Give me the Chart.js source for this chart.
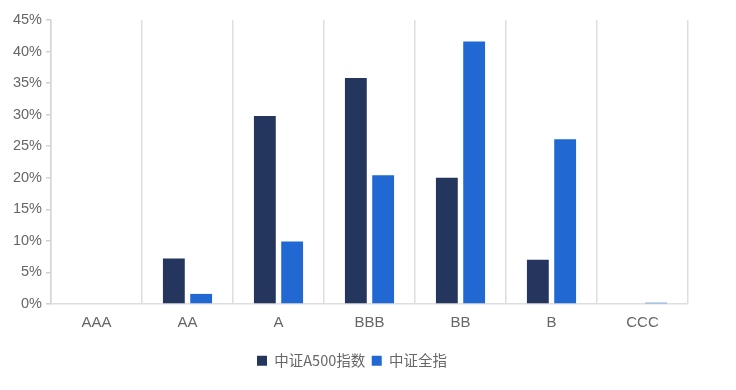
<!DOCTYPE html>
<html><head><meta charset="utf-8">
<script src="https://cdn.jsdelivr.net/npm/chart.js@4/dist/chart.umd.min.js"></script>
<style>html,body{margin:0;padding:0;background:#fff}#w{width:736px;height:390px}</style>
</head><body><div id="w"><canvas id="c" width="736" height="390"></canvas></div>
<script>
const categories = ["AAA","AA","A","BBB","BB","B","CCC"];
const seriesNames = ["中证A500指数","中证全指"];
const a500Values = [0, 7.2, 29.8, 35.8, 20.0, 7.0, 0];
const allIndexValues = [0, 1.6, 9.9, 20.4, 41.6, 26.1, 0.2];
const yTicks = [0,5,10,15,20,25,30,35,40,45];

const fontFam = "'Liberation Sans', Arial, 'Noto Sans CJK SC', sans-serif";
const legendShift = {
  id: 'legendShift',
  afterLayout(chart) { if (chart.legend) { chart.legend.left = 16; } }
};
new Chart(document.getElementById('c'), {
  type: 'bar',
  data: {
    labels: categories,
    datasets: [
      {label: seriesNames[0], data: a500Values, backgroundColor: '#24355e', borderWidth: 0, categoryPercentage: 0.6, barPercentage: 0.8},
      {label: seriesNames[1], data: allIndexValues, backgroundColor: '#2268d2', borderWidth: 0, categoryPercentage: 0.6, barPercentage: 0.8}
    ]
  },
  plugins: [legendShift],
  options: {
    responsive: false, animation: false,
    layout: {padding: {left: 0, right: 48, top: 20, bottom: 12}},
    plugins: {
      tooltip: {enabled: false},
      legend: {
        position: 'bottom',
        labels: {boxWidth: 10, boxHeight: 10, padding: 6.5, color: '#666',
          font: {family: "'Noto Sans CJK SC', sans-serif", size: 14.5}}
      }
    },
    scales: {
      x: {
        afterFit: s => { s.height = s.height + 5; },
        grid: {display: true, offset: true, color: '#dedede', lineWidth: 1.5, drawTicks: false},
        border: {display: true, color: '#dedede', width: 1.5},
        ticks: {color: '#666', padding: 10, font: {family: fontFam, size: 15}}
      },
      y: {
        min: 0, max: 45,
        afterBuildTicks: s => { s.ticks = yTicks.map(v => ({value: v})); },
        afterFit: s => { s.width = 51; },
        grid: {display: true, drawOnChartArea: false, drawTicks: true, tickLength: 5, color: '#d0d0d0', lineWidth: 1.5},
        border: {display: true, color: '#d6d6d6', width: 1.5},
        ticks: {color: '#666', padding: 4, font: {family: fontFam, size: 14.5}, callback: v => v + '%'}
      }
    }
  }
});
</script></body></html>
